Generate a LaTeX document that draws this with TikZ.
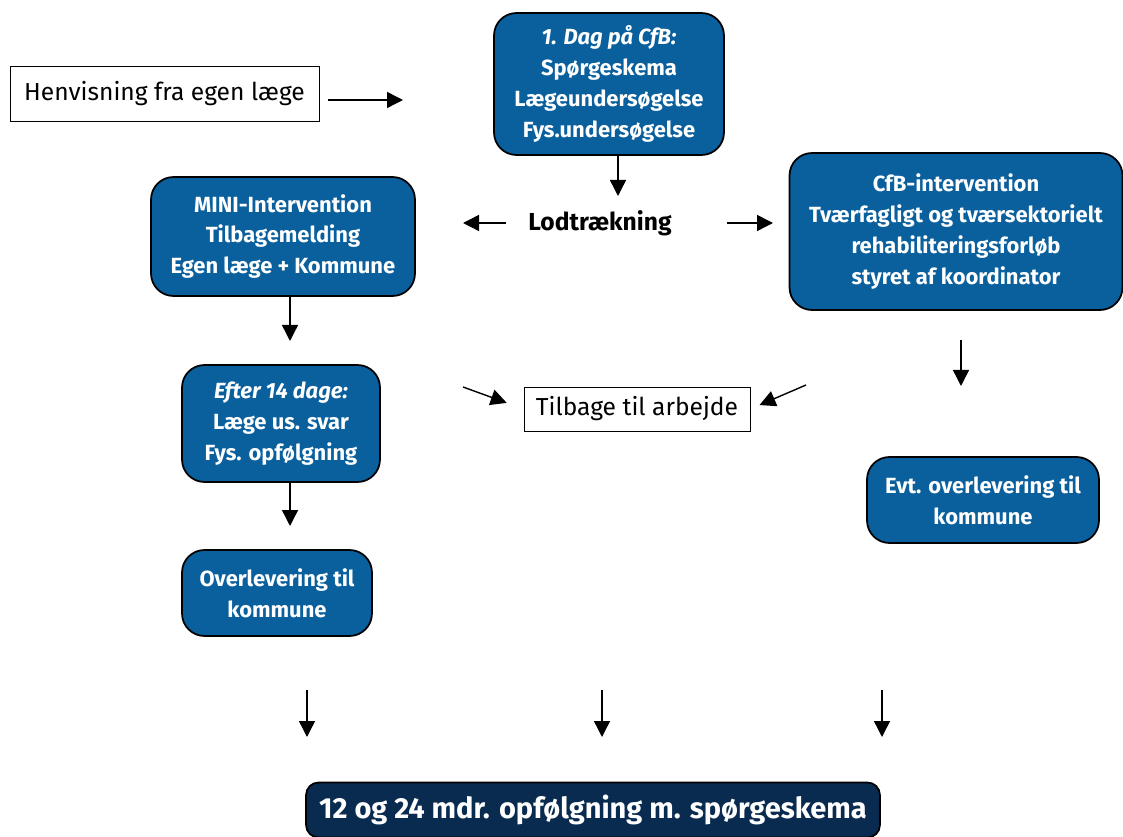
\documentclass[tikz,border=0pt]{standalone}
\usepackage{fontspec}
\setmainfont{Fira Sans}
\usetikzlibrary{arrows.meta}
\definecolor{cfbblue}{HTML}{0A5F9D}
\definecolor{cfbnavy}{HTML}{0A2B50}
\begin{document}
\begin{tikzpicture} [x=0.02cm,y=-0.02cm,>={Triangle[length=3.2mm,width=3.2mm]},thick,
		plain box/.style={draw,thin,fill=white,font=\fontsize{14}{17}\selectfont},
		step box/.style={draw=black,line width=1pt,fill=cfbblue,text=white,rounded corners=4.5mm,
			align=center,font=\bfseries\fontsize{12.5}{17.6}\selectfont,inner sep=2pt},
		final box/.style={step box,fill=cfbnavy,rounded corners=2.5mm,font=\bfseries\fontsize{16.5}{19}\selectfont}]

		\useasboundingbox (0,0) rectangle (1123,837);

		% boxes
		\node [plain box, minimum width=6.18cm, minimum height=1.1cm] (henv) at (164.5,93.5) {Henvisning fra egen læge};
		\node [step box, minimum width=4.6cm, minimum height=2.84cm] (dag) at (609,84)
			{\textit{1. Dag på CfB:}\\Spørgeskema\\Lægeundersøgelse\\Fys.undersøgelse};
		\node [font=\bfseries\fontsize{14}{17}\selectfont] (lod) at (600,223) {Lodtrækning};
		\node [step box, minimum width=5.28cm, minimum height=2.38cm] (mini) at (283,236.5)
			{MINI-Intervention\\Tilbagemelding\\Egen læge + Kommune};
		\node [step box, minimum width=6.66cm, minimum height=3.14cm] (cfb) at (956,231.5)
			{CfB-intervention\\Tværfagligt og tværsektorielt\\rehabiliteringsforløb\\styret af koordinator};
		\node [step box, minimum width=3.96cm, minimum height=2.34cm] (efter) at (281,423.5)
			{\textit{Efter 14 dage:}\\Læge us. svar\\Fys. opfølgning};
		\node [plain box, minimum width=4.52cm, minimum height=0.88cm] (tilb) at (637,409) {Tilbage til arbejde};
		\node [step box, minimum width=4.64cm, minimum height=1.72cm] (evt) at (983,500)
			{Evt. overlevering til\\kommune};
		\node [step box, minimum width=3.8cm, minimum height=1.72cm] (over) at (277,593)
			{Overlevering til\\kommune};
		\node [final box, minimum width=11.48cm, minimum height=1.1cm] (final) at (593,810)
			{12 og 24 mdr. opfølgning m. spørgeskema};

		% arrows
		\coordinate (henv-a) at (328,100);  \coordinate (henv-b) at (403,100);
		\coordinate (dag-a) at (618,155);   \coordinate (dag-b) at (618,196);
		\coordinate (lod-l) at (506,223);   \coordinate (lod-lb) at (463,223);
		\coordinate (lod-r) at (727,223);   \coordinate (lod-rb) at (773,223);
		\coordinate (mini-a) at (290,296);  \coordinate (mini-b) at (290,341);
		\coordinate (tilb-l) at (463,387);  \coordinate (tilb-r) at (806,385);
		\coordinate (cfb-a) at (961,340);   \coordinate (cfb-b) at (961,386);
		\coordinate (efter-a) at (290,482); \coordinate (efter-b) at (290,526);
		\foreach \x/\name in {307/left,602/mid,882/right}{
			\coordinate (\name-a) at (\x,690);
			\coordinate (\name-b) at (\x,737);
		}

		\draw [->] (henv-a) -- (henv-b);
		\draw [->] (dag-a) -- (dag-b);
		\draw [->] (lod-l) -- (lod-lb);
		\draw [->] (lod-r) -- (lod-rb);
		\draw [->] (mini-a) -- (mini-b);
		\draw [->,shorten >=0.36cm] (tilb-l) -- (tilb.west);
		\draw [->,shorten >=0.2cm] (tilb-r) -- (tilb.east);
		\draw [->] (cfb-a) -- (cfb-b);
		\draw [->] (efter-a) -- (efter-b);
		\foreach \name in {left,mid,right}
			\draw [->] (\name-a) -- (\name-b);
		\end{tikzpicture}
\end{document}
